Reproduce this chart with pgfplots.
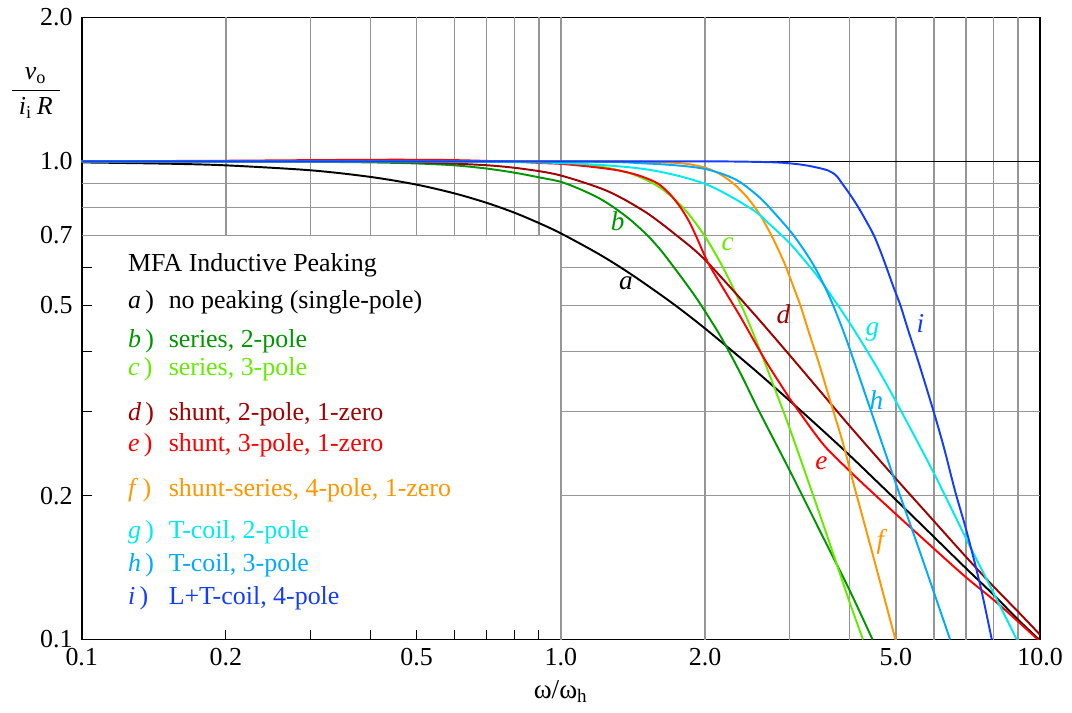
\documentclass[border=0pt]{standalone}
\usepackage{amsmath}
\usepackage{fontspec}
\setmainfont{Liberation Serif}
\usepackage{pgfplots}
\pgfplotsset{compat=1.18}

\definecolor{ca}{RGB}{0,0,0}
\definecolor{cb}{RGB}{0,150,0}
\definecolor{cc}{RGB}{100,235,0}
\definecolor{cd}{RGB}{160,0,0}
\definecolor{ce}{RGB}{255,0,0}
\definecolor{cf}{RGB}{255,150,0}
\definecolor{cg}{RGB}{0,235,235}
\definecolor{ch}{RGB}{0,170,255}
\definecolor{ci}{RGB}{20,60,255}
\definecolor{gridc}{RGB}{150,150,150}

\tikzset{
  legtext/.style={anchor=base west, inner sep=0pt, font=\fontsize{10}{12}\selectfont},
  curvelab/.style={inner sep=0pt, font=\fontsize{10.5}{12}\selectfont\itshape},
  gridl/.style={gridc, line width=0.55pt},
}

\begin{document}
\begin{tikzpicture}
\begin{axis}[
    xmode=log, ymode=log,
    scale only axis,
    width=369.6pt, height=239.9pt,
    xmin=0.1, xmax=10, ymin=0.1, ymax=2,
    xtick={0.1,0.2,0.5,1,2,5,10},
    xticklabels={0.1,0.2,0.5,1.0,2.0,5.0,10.0},
    minor xtick={0.3,0.4,0.6,0.7,0.8,0.9},
    ytick={0.1,0.2,0.5,0.7,1,2},
    yticklabels={0.1,0.2,0.5,0.7,1.0,2.0},
    minor ytick={0.3,0.4,0.6},
    tick pos=left, tick align=inside,
    major tick length=3.8pt, minor tick length=3.8pt,
    tick style={black, line width=0.4pt},
    axis line style={line width=0.7pt},
    /pgf/number format/assume math mode=true,
    every tick label/.append style={font=\fontsize{10}{12}\selectfont},
    xlabel={ω/ω\textsubscript{h}},
    xlabel style={at={(axis description cs:0.5,-0.0947)}, anchor=base, font=\fontsize{10.5}{12}\selectfont},
    ylabel={$\dfrac{\textit{v}_{\text{o}}}{\;\textit{i}_{\text{i}}\,\textit{R}\;}$},
    ylabel style={rotate=-90, at={(axis description cs:-0.0479,0.8785)}, anchor=center},
    every axis plot/.append style={line width=0.75pt, smooth},
]

% grid (left-lower region stays empty for the legend)
\pgfplotsinvokeforeach{0.2,0.3,0.4,0.5,0.6,0.7,0.8,0.9}{\draw[gridl] (axis cs:#1,0.7) -- (axis cs:#1,2);}
\pgfplotsinvokeforeach{1,2,3,4,5,6,7,8,9}{\draw[gridl] (axis cs:#1,0.1) -- (axis cs:#1,2);}
\pgfplotsinvokeforeach{0.2,0.3,0.4,0.5,0.6}{\draw[gridl] (axis cs:1,#1) -- (axis cs:10,#1);}
\pgfplotsinvokeforeach{0.7,0.8,0.9}{\draw[gridl] (axis cs:0.1,#1) -- (axis cs:10,#1);}
\draw[black, line width=0.5pt] (axis cs:0.1,1) -- (axis cs:10,1);

% a) no peaking
\addplot[ca] coordinates {
(0.1,0.995)(0.15,0.989)(0.2,0.981)(0.3,0.958)(0.4,0.928)(0.5,0.894)(0.6,0.857)
(0.7,0.819)(0.8,0.781)(0.9,0.743)(1.0,0.707)(1.2,0.640)(1.4,0.581)(1.7,0.507)
(2.0,0.447)(2.5,0.371)(3.0,0.316)(3.5,0.275)(4.0,0.243)(5.0,0.196)(6.0,0.164)
(7.0,0.141)(8.0,0.124)(9.0,0.110)(10,0.0995)};
% b) series 2-pole
\addplot[cb] coordinates {
(0.1,1.0)(0.2,0.9995)(0.3,0.998)(0.4,0.995)(0.5,0.99)(0.6,0.981)(0.7,0.966)
(0.8,0.947)(0.9,0.926)(1.0,0.906)(1.101,0.873)(1.2,0.838)(1.292,0.8)(1.4,0.753)
(1.516,0.7)(1.62,0.65)(1.722,0.6)(1.83,0.553)(1.942,0.508)(2.15,0.432)(2.371,0.36)
(2.593,0.3)(3.0,0.226)(3.5,0.166)(4.0,0.127)(4.47,0.1)};
% c) series 3-pole
\addplot[cc] coordinates {
(0.1,1.0)(0.5,0.9999)(0.8,0.998)(1.0,0.992)(1.2,0.976)(1.4,0.943)(1.6,0.885)
(1.8,0.80)(2.0,0.696)(2.2,0.589)(2.4,0.490)(2.6,0.404)(2.8,0.333)(3.0,0.277)
(3.3,0.211)(3.6,0.164)(4.0,0.120)(4.27,0.1)};
% d) shunt 2-pole 1-zero
\addplot[cd] coordinates {
(0.1,1.0)(0.3,0.9993)(0.5,0.995)(0.7,0.9815)(0.85,0.962)(1.0,0.934)(1.25,0.867)
(1.5,0.784)(1.75,0.698)(2.0,0.622)(2.5,0.486)(3.0,0.3935)(3.5,0.328)(4.0,0.280)
(5.0,0.217)(6.0,0.177)(7.0,0.149)(8.0,0.129)(9.0,0.1143)(10,0.1023)};
% e) shunt 3-pole 1-zero
\addplot[ce] coordinates {
(0.1,1.0)(0.2,1.003)(0.3,1.006)(0.45,1.008)(0.6,1.006)(0.8,0.998)(0.908,0.992)
(1.0,0.988)(1.15,0.975)(1.312,0.958)(1.45,0.935)(1.59,0.9)(1.69,0.853)(1.778,0.8)
(1.85,0.75)(1.912,0.7)(2.0,0.632)(2.053,0.6)(2.2,0.535)(2.371,0.4725)(2.673,0.383)
(3.004,0.319)(3.137,0.30)(3.538,0.255)(4.02,0.2243)(4.42,0.205)(5.0,0.183)
(6.0,0.155)(7.0,0.135)(8.0,0.121)(9.0,0.109)(10,0.099)};
% f) shunt-series 4-pole 1-zero
\addplot[cf] coordinates {
(0.1,1.0)(1.0,1.0)(1.5,0.998)(1.8,0.99)(2.0,0.97)(2.15,0.94)(2.296,0.897)
(2.45,0.84)(2.61,0.77)(2.77,0.69)(2.92,0.616)(3.05,0.55)(3.16,0.5)(3.29,0.44)
(3.45,0.38)(3.65,0.315)(3.89,0.255)(4.07,0.2138)(4.44,0.155)(4.99,0.1)};
% g) T-coil 2-pole
\addplot[cg] coordinates {
(0.1,1.0)(0.5,0.9995)(1.0,0.992)(1.5,0.963)(2.0,0.897)(2.5,0.795)(2.75,0.733)
(3.0,0.675)(3.25,0.615)(3.5,0.56)(4.0,0.46)(4.5,0.38)(5.0,0.315)(6.0,0.223)
(7.0,0.163)(8.0,0.125)(8.94,0.1)};
% h) T-coil 3-pole
\addplot[ch] coordinates {
(0.1,1.0)(1.0,0.999)(1.5,0.99)(1.8,0.978)(2.0,0.964)(2.2,0.937)(2.37,0.904)
(2.6,0.84)(2.78,0.783)(3.06,0.70)(3.37,0.606)(3.65,0.516)(3.94,0.425)(4.42,0.304)
(5.0,0.212)(5.62,0.152)(6.49,0.1)};
% i) L+T-coil 4-pole
\addplot[ci] coordinates {
(0.1,1.0)(1.0,1.0)(2.0,1.0)(2.5,0.998)(2.87,0.994)(3.16,0.985)(3.37,0.974)
(3.6,0.958)(3.75,0.935)(3.86,0.9)(4.02,0.85)(4.18,0.8)(4.35,0.746)(4.5,0.7)
(4.64,0.65)(4.78,0.6)(4.93,0.55)(5.11,0.5)(5.3,0.445)(5.6,0.375)(6.0,0.299)
(6.3,0.252)(6.65,0.204)(7.03,0.168)(7.5,0.13)(7.93,0.1)};

% curve letters
\node[curvelab, text=ca] at (axis cs:1.366,0.557) {a};
\node[curvelab, text=cb] at (axis cs:1.314,0.750) {b};
\node[curvelab, text=cc] at (axis cs:2.228,0.671) {c};
\node[curvelab, text=cd] at (axis cs:2.914,0.479) {d};
\node[curvelab, text=ce] at (axis cs:3.498,0.234) {e};
\node[curvelab, text=cf] at (axis cs:4.642,0.160) {f};
\node[curvelab, text=cg] at (axis cs:4.467,0.440) {g};
\node[curvelab, text=ch] at (axis cs:4.553,0.317) {h};
\node[curvelab, text=ci] at (axis cs:5.623,0.457) {i};

% legend block
\node[legtext] at (rel axis cs:0.0479,0.5918) {MFA Inductive Peaking};
\node[legtext, text=ca] at (rel axis cs:0.0479,0.5318) {\textit{a}\,)};
\node[legtext, text=ca] at (rel axis cs:0.0903,0.5318) {no peaking (single-pole)};
\node[legtext, text=cb] at (rel axis cs:0.0479,0.4687) {\textit{b}\,)};
\node[legtext, text=cb] at (rel axis cs:0.0903,0.4687) {series, 2-pole};
\node[legtext, text=cc] at (rel axis cs:0.0479,0.4249) {\textit{c}\,)};
\node[legtext, text=cc] at (rel axis cs:0.0903,0.4249) {series, 3-pole};
\node[legtext, text=cd] at (rel axis cs:0.0479,0.3526) {\textit{d}\,)};
\node[legtext, text=cd] at (rel axis cs:0.0903,0.3526) {shunt, 2-pole, 1-zero};
\node[legtext, text=ce] at (rel axis cs:0.0479,0.3029) {\textit{e}\,)};
\node[legtext, text=ce] at (rel axis cs:0.0903,0.3029) {shunt, 3-pole, 1-zero};
\node[legtext, text=cf] at (rel axis cs:0.0479,0.2307) {\textit{f}\,)};
\node[legtext, text=cf] at (rel axis cs:0.0903,0.2307) {shunt-series, 4-pole, 1-zero};
\node[legtext, text=cg] at (rel axis cs:0.0479,0.1626) {\textit{g}\,)};
\node[legtext, text=cg] at (rel axis cs:0.0903,0.1626) {T-coil, 2-pole};
\node[legtext, text=ch] at (rel axis cs:0.0479,0.1091) {\textit{h}\,)};
\node[legtext, text=ch] at (rel axis cs:0.0903,0.1091) {T-coil, 3-pole};
\node[legtext, text=ci] at (rel axis cs:0.0479,0.0557) {\textit{i}\,)};
\node[legtext, text=ci] at (rel axis cs:0.0903,0.0557) {L+T-coil, 4-pole};
\end{axis}
\path ([shift={(-30.8pt,-28.1pt)}]current axis.south west) rectangle ([shift={(12.3pt,5.8pt)}]current axis.north east);
\end{tikzpicture}
\end{document}
